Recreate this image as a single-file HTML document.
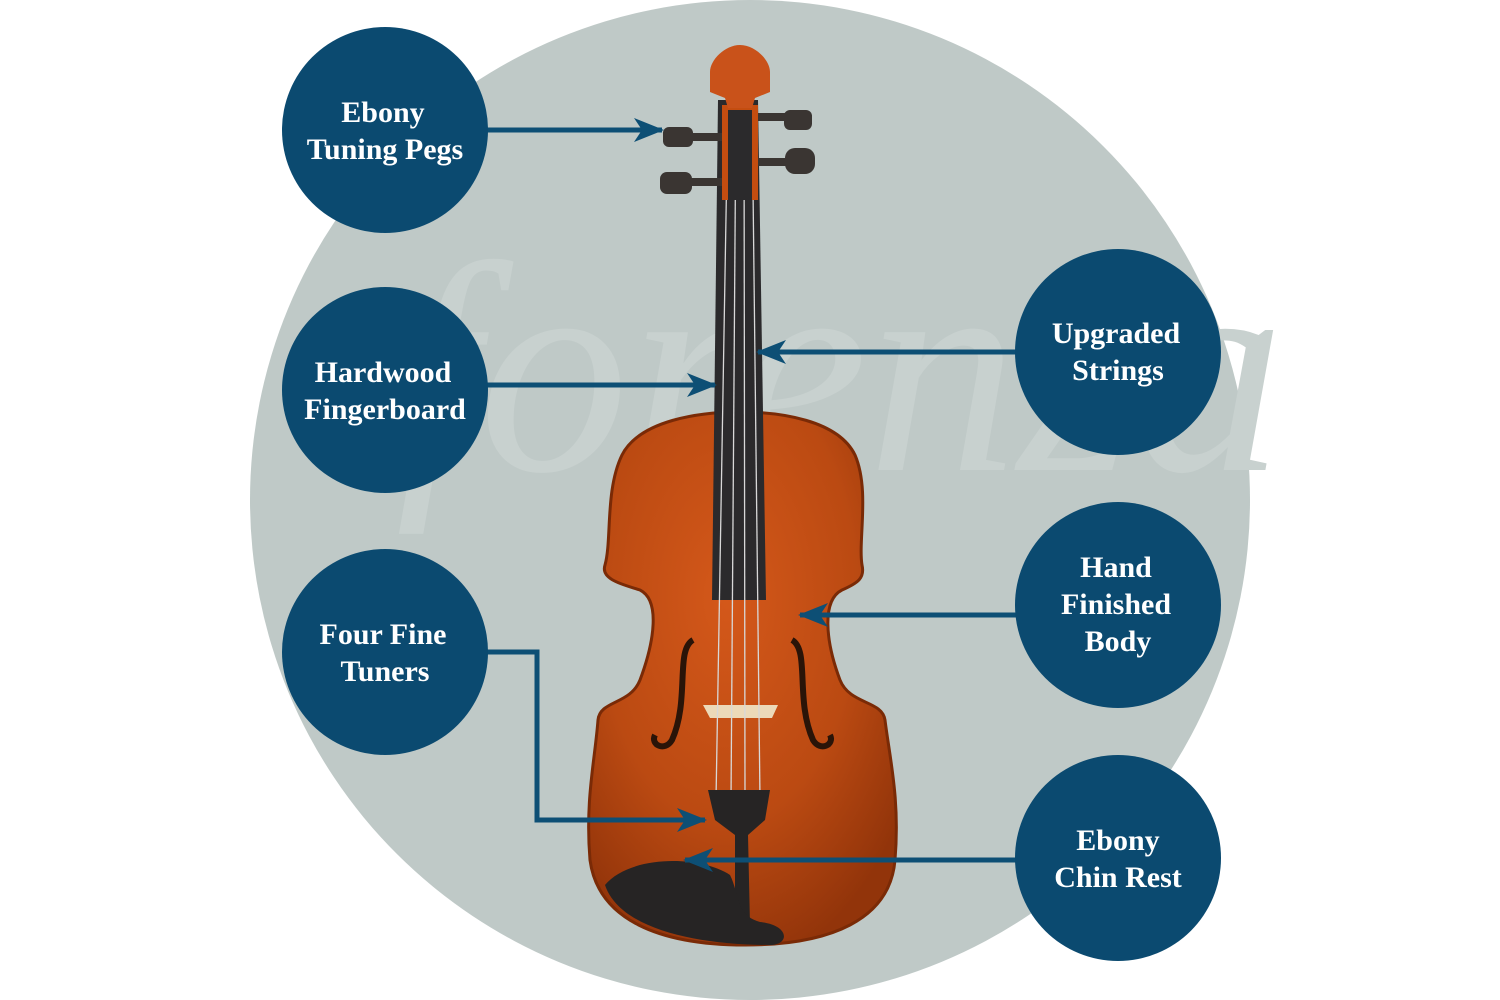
<!DOCTYPE html>
<html><head><style>
html,body{margin:0;padding:0;background:#fff;}
svg{display:block}
text{font-family:"Liberation Serif",serif;font-weight:bold;fill:#fff;font-size:30px;text-anchor:middle}
</style></head><body>
<svg width="1500" height="1000" viewBox="0 0 1500 1000" xmlns="http://www.w3.org/2000/svg">
<defs>
<radialGradient id="wood" cx="0.45" cy="0.35" r="0.7">
<stop offset="0" stop-color="#d4581a"/><stop offset="0.6" stop-color="#bb4a12"/><stop offset="1" stop-color="#92340a"/>
</radialGradient>
<marker id="ah" viewBox="0 0 30 30" refX="28" refY="15" markerWidth="30" markerHeight="30" markerUnits="userSpaceOnUse" orient="auto">
<path d="M0,3 L30,15 L0,27 L8,15 Z" fill="#0d4f75"/>
</marker>
</defs>
<circle cx="750" cy="500" r="500" fill="#bfc9c7"/>
<text x="840" y="470" style="font-size:300px;font-style:italic;font-weight:normal;fill:#c8d1cf">forenza</text>
<path d="M740,412 C700,412 640,420 622,455 C605,490 612,540 605,565 C600,580 625,585 640,590 C660,600 655,640 640,680 C630,705 600,700 598,720 C595,760 585,800 590,860 C598,920 660,945 745,945 C830,945 890,920 895,860 C900,800 890,760 885,720 C882,700 850,705 840,680 C825,640 822,600 842,590 C858,583 865,578 862,565 C858,540 870,490 855,455 C838,420 780,412 740,412 Z" fill="url(#wood)" stroke="#7a2a06" stroke-width="3"/>
<path d="M693,640 C675,650 690,700 672,740 C665,752 650,745 655,735" stroke="#2a1408" stroke-width="6" fill="none"/>
<path d="M792,640 C810,650 795,700 813,740 C820,752 835,745 830,735" stroke="#2a1408" stroke-width="6" fill="none"/>
<path d="M703,705 L778,705 L772,718 L710,718 Z" fill="#ecd9b8"/>
<path d="M718,100 L758,100 L766,600 L712,600 Z" fill="#2b2a2c"/>
<g stroke="#d8d8d8" stroke-width="1.3">
<line x1="728" y1="100" x2="716" y2="800"/><line x1="736" y1="100" x2="731" y2="800"/>
<line x1="744" y1="100" x2="745" y2="800"/><line x1="752" y1="100" x2="760" y2="800"/>
</g>
<path d="M722,105 L758,105 L758,200 L722,200 Z" fill="#c44d10"/>
<path d="M728,110 L752,110 L752,200 L728,200 Z" fill="#2b2a2c"/>
<path d="M710,72 C710,60 725,45 740,45 C755,45 770,60 770,72 L770,92 L755,98 L752,108 L728,108 L725,98 L710,92 Z" fill="#c9521a"/>
<g fill="#3a3532">
<rect x="690" y="133" width="32" height="8"/><rect x="663" y="127" width="30" height="20" rx="6"/>
<rect x="690" y="178" width="32" height="8"/><rect x="660" y="172" width="32" height="22" rx="7"/>
<rect x="758" y="113" width="30" height="8"/><rect x="784" y="110" width="28" height="20" rx="6"/>
<rect x="758" y="158" width="30" height="8"/><rect x="785" y="148" width="30" height="26" rx="10"/>
</g>
<path d="M708,790 L770,790 L765,820 L748,835 L750,925 L735,925 L735,835 L715,820 Z" fill="#262424"/>
<path d="M605,885 C630,855 700,855 730,875 C740,895 735,915 760,922 C790,925 790,945 770,945 C700,945 620,930 605,885 Z" fill="#262424"/>
<g stroke="#0d4f75" stroke-width="5" fill="none" marker-end="url(#ah)">
<path d="M486,130 L662,130"/>
<path d="M486,385 L715,385"/>
<path d="M486,652 L537,652 L537,820 L705,820"/>
<path d="M1018,352 L758,352"/>
<path d="M1018,615 L800,615"/>
<path d="M1018,860 L685,860"/>
</g>
<g fill="#0b4a70">
<circle cx="385" cy="130" r="103"/><circle cx="385" cy="390" r="103"/><circle cx="385" cy="652" r="103"/>
<circle cx="1118" cy="352" r="103"/><circle cx="1118" cy="605" r="103"/><circle cx="1118" cy="858" r="103"/>
</g>
<text x="383" y="122">Ebony</text><text x="385" y="159">Tuning Pegs</text>
<text x="383" y="382">Hardwood</text><text x="385" y="419">Fingerboard</text>
<text x="383" y="644">Four Fine</text><text x="385" y="681">Tuners</text>
<text x="1116" y="343">Upgraded</text><text x="1118" y="380">Strings</text>
<text x="1116" y="577">Hand</text><text x="1116" y="614">Finished</text><text x="1118" y="651">Body</text>
<text x="1118" y="850">Ebony</text><text x="1118" y="887">Chin Rest</text>
</svg>
</body></html>
